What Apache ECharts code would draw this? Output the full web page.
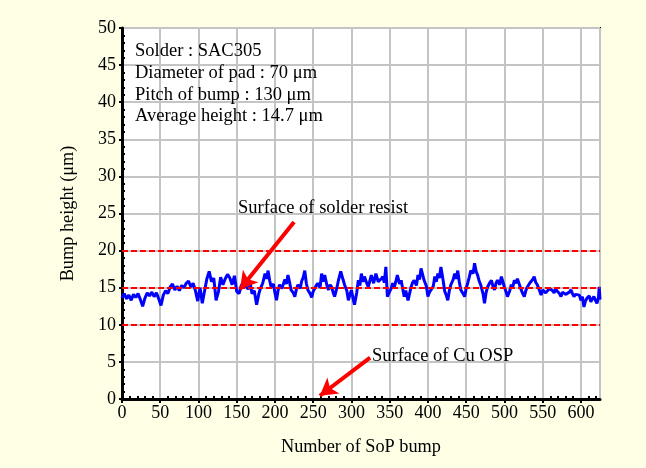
<!DOCTYPE html>
<html>
<head>
<meta charset="utf-8">
<script src="https://cdn.jsdelivr.net/npm/echarts@6/dist/echarts.min.js"></script>
<style>
html,body{margin:0;padding:0;background:#FFFFE6;}
#chart{width:646px;height:468px;}
</style>
</head>
<body>
<div id="chart"></div>
<script>
var bumpNo = [0,3,6,9,12,15,18,21,24,27,30,33,36,39,42,45,48,51,54,57,60,63,66,69,72,75,78,81,84,87,90,93,96,99,102,105,108,111,114,117,120,123,126,129,132,135,138,141,144,147,150,153,156,159,162,
165,168,170,173,176,179,181,184,187,189,191,193,195,198,200,202,204,206,209,213,215,217,219,221,224,226,228,230,233,235,237,239,241,243,246,248,250,252,254,256,259,261,263,265,268,270,272,274,276,278,281,283,286,289,291,294,296,298,300,302,304,307,309,311,313,315,317,320,322,324,326,329,
332,335,337,339,341,343,345,347,350,352,354,356,358,360,363,365,367,369,371,374,376,378,380,382,385,387,389,391,393,395,398,400,402,404,407,409,411,413,415,417,420,422,424,426,428,430,433,435,437,439,441,443,446,448,450,452,454,456,459,461,463,465,467,469,472,474,476,478,481,483,485,487,489,491,494,496,498,
500,502,504,507,509,511,513,515,517,520,522,524,526,528,530,533,535,537,539,541,543,546,548,550,552,554,556,559,561,563,565,567,569,572,574,576,578,580,582,585,587,589,591,593,595,598,600,602,604,606,608,611,613,615,617,619,621,623,624,625];
var bumpHeight = [13.6,14.2,13.5,14.0,13.3,14.1,13.7,14.2,13.4,12.5,13.6,14.3,13.9,14.4,13.8,14.3,13.5,12.6,14.0,14.6,14.2,15.1,15.5,14.7,15.2,14.6,15.3,15.0,15.6,15.9,15.1,15.6,14.6,13.2,15.0,12.9,14.6,16.2,17.2,15.8,16.3,13.3,14.4,16.4,15.4,16.2,16.8,16.3,15.4,16.6,14.5,14.2,15.3,15.8,15.2,
14.8,15.4,14.2,14.6,12.7,14.2,14.9,15.6,16.9,16.2,17.3,16.0,15.1,15.5,14.3,13.3,14.6,15.4,14.9,16.1,15.5,16.7,15.8,14.7,14.3,13.8,14.8,15.4,14.9,15.9,16.4,17.3,15.6,14.7,14.2,13.7,14.5,14.9,15.3,15.6,15.0,16.9,15.8,16.7,15.3,14.7,15.4,15.1,14.4,13.8,15.0,16.0,17.2,16.1,15.4,14.6,13.3,14.1,14.7,13.6,12.7,14.4,16.0,15.3,16.9,15.8,16.5,15.6,15.1,15.9,16.7,15.6,
16.9,15.8,15.6,16.2,16.5,15.7,17.8,13.8,14.5,14.9,15.6,15.1,15.8,16.7,15.5,16.0,14.9,13.8,14.6,13.3,14.2,15.1,15.7,16.0,15.3,16.7,16.1,17.6,16.8,16.0,15.2,13.8,14.4,14.7,15.2,16.5,15.8,16.9,16.3,17.8,15.9,14.5,14.0,13.3,14.6,15.4,16.1,16.9,16.2,17.3,15.8,14.7,14.2,13.8,14.9,15.6,16.4,17.3,16.9,18.3,17.2,16.7,15.9,15.4,14.2,12.9,14.3,15.1,15.7,16.0,15.2,14.7,15.6,16.0,15.4,16.5,15.8,
15.1,14.5,13.8,14.6,15.4,15.1,16.0,15.6,16.2,15.3,14.7,14.2,13.8,14.6,15.1,15.6,15.8,16.1,16.5,15.7,15.4,14.6,14.0,14.7,14.9,14.3,14.5,14.9,15.1,14.6,14.3,14.8,14.7,14.2,13.8,14.4,14.5,14.1,14.0,14.4,14.7,14.2,13.8,14.1,14.3,14.0,13.3,13.8,12.4,13.2,13.6,13.9,13.1,13.5,13.8,13.3,12.9,13.7,15.1,13.4];
var refLevels = [10, 15, 20];
var xTicks = {min: 0, max: 625, interval: 50};
var yTicks = {min: 0, max: 50, interval: 5};
var infoLines = ['Solder : SAC305', 'Diameter of pad : 70 \u03bcm', 'Pitch of bump : 130 \u03bcm', 'Average height : 14.7 \u03bcm'];
var arrowResist = [[225, 23.85], [154.3, 14.8]];
var arrowCu = [[324.4, 5.57], [258.7, 0.44]];

var FONT = 'Liberation Serif';
var chart = echarts.init(document.getElementById('chart'));
var seriesData = bumpNo.map(function (x, i) { return [x, bumpHeight[i]]; });

var TF = '18.5px "Liberation Serif"';
var graphics = infoLines.map(function (t, i) {
  return {type: 'text', left: 135, top: 42 + i * 21.7, z: 100,
    style: {text: t, font: TF, fill: '#000'}};
});
graphics.push({type: 'text', left: 238, top: 199, z: 100, style: {text: 'Surface of solder resist', font: TF, fill: '#000'}});
graphics.push({type: 'text', left: 372, top: 347, z: 100, style: {text: 'Surface of Cu OSP', font: TF, fill: '#000'}});

chart.setOption({
  backgroundColor: '#FFFFE6',
  animation: false,
  grid: {left: 122, right: 46, top: 28, bottom: 69, show: true, backgroundColor: '#ffffff', borderColor: '#000', borderWidth: 2, containLabel: false},
  xAxis: [{
    type: 'value', min: xTicks.min, max: xTicks.max, interval: xTicks.interval,
    name: 'Number of SoP bump', nameLocation: 'middle', nameGap: 39,
    nameTextStyle: {fontFamily: FONT, fontSize: 18.3, color: '#000'},
    axisLine: {show: true, lineStyle: {color: '#000', width: 3}},
    axisTick: {show: true, length: 4, lineStyle: {color: '#000', width: 2}},
    axisLabel: {fontFamily: FONT, fontSize: 18, color: '#000', margin: 5, showMaxLabel: false},
    splitLine: {show: true, lineStyle: {color: '#c4c4c4', width: 2}}
  }, {
    type: 'value', min: xTicks.min, max: xTicks.max, interval: xTicks.interval, position: 'bottom',
    axisLine: {show: false}, axisTick: {show: false, inside: true}, axisLabel: {show: false}, splitLine: {show: false},
    minorTick: {show: true, splitNumber: 5, length: 3, lineStyle: {color: '#000', width: 2}}
  }],
  yAxis: [{
    type: 'value', min: yTicks.min, max: yTicks.max, interval: yTicks.interval,
    name: 'Bump height (\u03bcm)', nameLocation: 'middle', nameGap: 45, nameRotate: 90,
    nameTextStyle: {fontFamily: FONT, fontSize: 18.3, color: '#000'},
    axisLine: {show: true, lineStyle: {color: '#000', width: 3}},
    axisTick: {show: true, length: 3, lineStyle: {color: '#000', width: 2}},
    axisLabel: {fontFamily: FONT, fontSize: 18, color: '#000', margin: 6},
    splitLine: {show: true, lineStyle: {color: '#c4c4c4', width: 2}}
  }, {
    type: 'value', min: yTicks.min, max: yTicks.max, interval: yTicks.interval, position: 'left',
    axisLine: {show: false}, axisTick: {show: false, inside: true}, axisLabel: {show: false}, splitLine: {show: false},
    minorTick: {show: true, splitNumber: 5, length: 3, lineStyle: {color: '#000', width: 2}}
  }],
  graphic: graphics,
  series: [{
    type: 'line', xAxisIndex: 0, yAxisIndex: 0, data: seriesData, symbol: 'none',
    lineStyle: {color: '#0000ff', width: 3}, z: 3,
    markLine: {
      silent: true, symbol: 'none', animation: false,
      label: {show: false},
      lineStyle: {color: '#ff0000', width: 2, type: [6, 3]},
      data: refLevels.map(function (v) { return {yAxis: v}; })
    }
  }, {
    type: 'line', data: [], z: 5,
    markLine: {
      silent: true, animation: false, symbol: ['none', 'arrow'], symbolSize: [15, 17],
      label: {show: false},
      lineStyle: {color: '#ff0000', width: 4, type: 'solid'},
      data: [
        [{coord: arrowResist[0]}, {coord: arrowResist[1]}],
        [{coord: arrowCu[0]}, {coord: arrowCu[1]}]
      ]
    }
  }]
});
</script>
</body>
</html>
